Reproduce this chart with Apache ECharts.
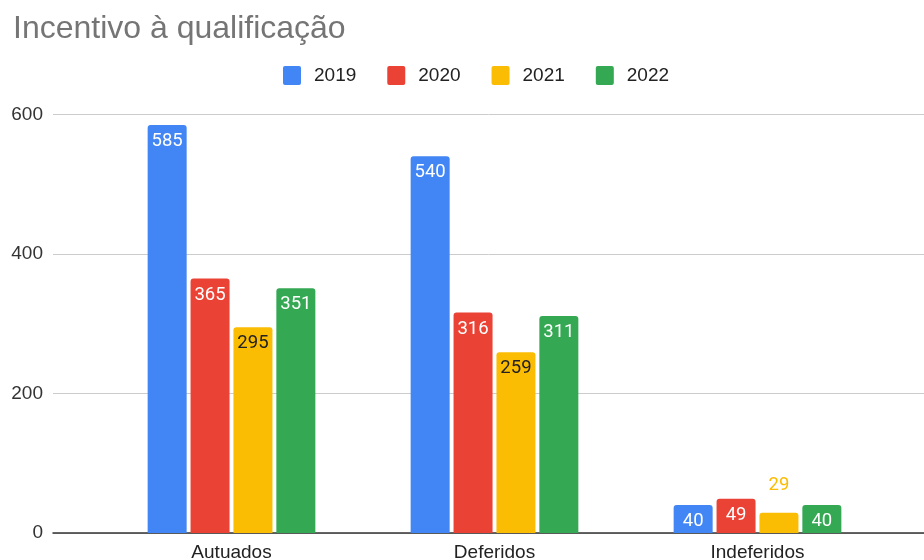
<!DOCTYPE html>
<html>
<head>
<meta charset="utf-8">
<script src="https://cdn.jsdelivr.net/npm/echarts@6/dist/echarts.min.js"></script>
<style>
html,body{margin:0;padding:0;background:#fff;}
#chart{width:924px;height:560px;}
</style>
</head>
<body>
<div id="chart"></div>
<script>
const title = 'Incentivo à qualificação';
const categories = ['Autuados', 'Deferidos', 'Indeferidos'];
const seriesNames = ['2019', '2020', '2021', '2022'];
const values2019 = [585, 540, 40];
const values2020 = [365, 316, 49];
const values2021 = [295, 259, 29];
const values2022 = [351, 311, 40];
const yTicks = [0, 200, 400, 600];

const colors = ['#4285f4', '#ea4335', '#fbbc04', '#34a853'];
const insideLabelColors = ['#ffffff', '#ffffff', '#222222', '#ffffff'];
const allValues = [values2019, values2020, values2021, values2022];

const FONT = '"Liberation Sans", Arial, sans-serif';
const LABEL_FONT = 'Roboto, "Liberation Sans", sans-serif';
const yMin = yTicks[0], yMax = yTicks[yTicks.length - 1], yStep = yTicks[1] - yTicks[0];

const chart = echarts.init(document.getElementById('chart'), null, {renderer: 'canvas'});

const series = allValues.map((vals, i) => ({
  name: seriesNames[i],
  type: 'bar',
  xAxisIndex: 1,
  yAxisIndex: 1,
  barWidth: 39,
  barGap: '10%',
  itemStyle: {color: colors[i], borderRadius: [3, 3, 0, 0]},
  label: {
    show: true,
    position: 'insideTop',
    distance: 7,
    color: insideLabelColors[i],
    fontFamily: LABEL_FONT,
    fontSize: 18.5
  },
  data: vals.map(v => v < 35 ? {
    value: v,
    label: {position: 'top', distance: 18, color: colors[i]}
  } : v)
}));

chart.setOption({
  animation: false,
  backgroundColor: '#ffffff',
  color: colors,
  title: {
    text: title,
    left: 8,
    top: 8,
    textStyle: {fontFamily: FONT, fontSize: 32, fontWeight: 'normal', color: '#757575'}
  },
  legend: {
    data: seriesNames,
    left: 278,
    top: 61,
    icon: 'path://M2,0 L16,0 Q18,0 18,2 L18,17 Q18,19 16,19 L2,19 Q0,19 0,17 L0,2 Q0,0 2,0 Z',
    itemWidth: 18,
    itemHeight: 19,
    itemGap: 31,
    textStyle: {fontFamily: FONT, fontSize: 19, color: '#222222', padding: [0, 0, 0, 8]}
  },
  grid: [
    {left: 53, right: 0, top: 114.5, bottom: 27, outerBoundsMode: 'none', containLabel: false},
    {left: 100, right: 35, top: 114.5, bottom: 27, outerBoundsMode: 'none', containLabel: false}
  ],
  xAxis: [
    {
      gridIndex: 0, type: 'value', min: 0, max: 1,
      axisLine: {show: true, lineStyle: {color: '#333333', width: 1.5}},
      axisTick: {show: false}, axisLabel: {show: false}, splitLine: {show: false}
    },
    {
      gridIndex: 1, type: 'category', data: categories,
      axisLine: {show: false}, axisTick: {show: false},
      axisLabel: {fontFamily: FONT, fontSize: 19, color: '#222222', margin: 10}
    }
  ],
  yAxis: [
    {
      gridIndex: 0, type: 'value', min: yMin, max: yMax, interval: yStep,
      axisLine: {show: false}, axisTick: {show: false},
      axisLabel: {fontFamily: FONT, fontSize: 19, color: '#333333', margin: 10},
      splitLine: {lineStyle: {color: '#cccccc', width: 1}}
    },
    {
      gridIndex: 1, type: 'value', min: yMin, max: yMax, interval: yStep,
      show: false, splitLine: {show: false}
    }
  ],
  series: series
});
</script>
</body>
</html>
